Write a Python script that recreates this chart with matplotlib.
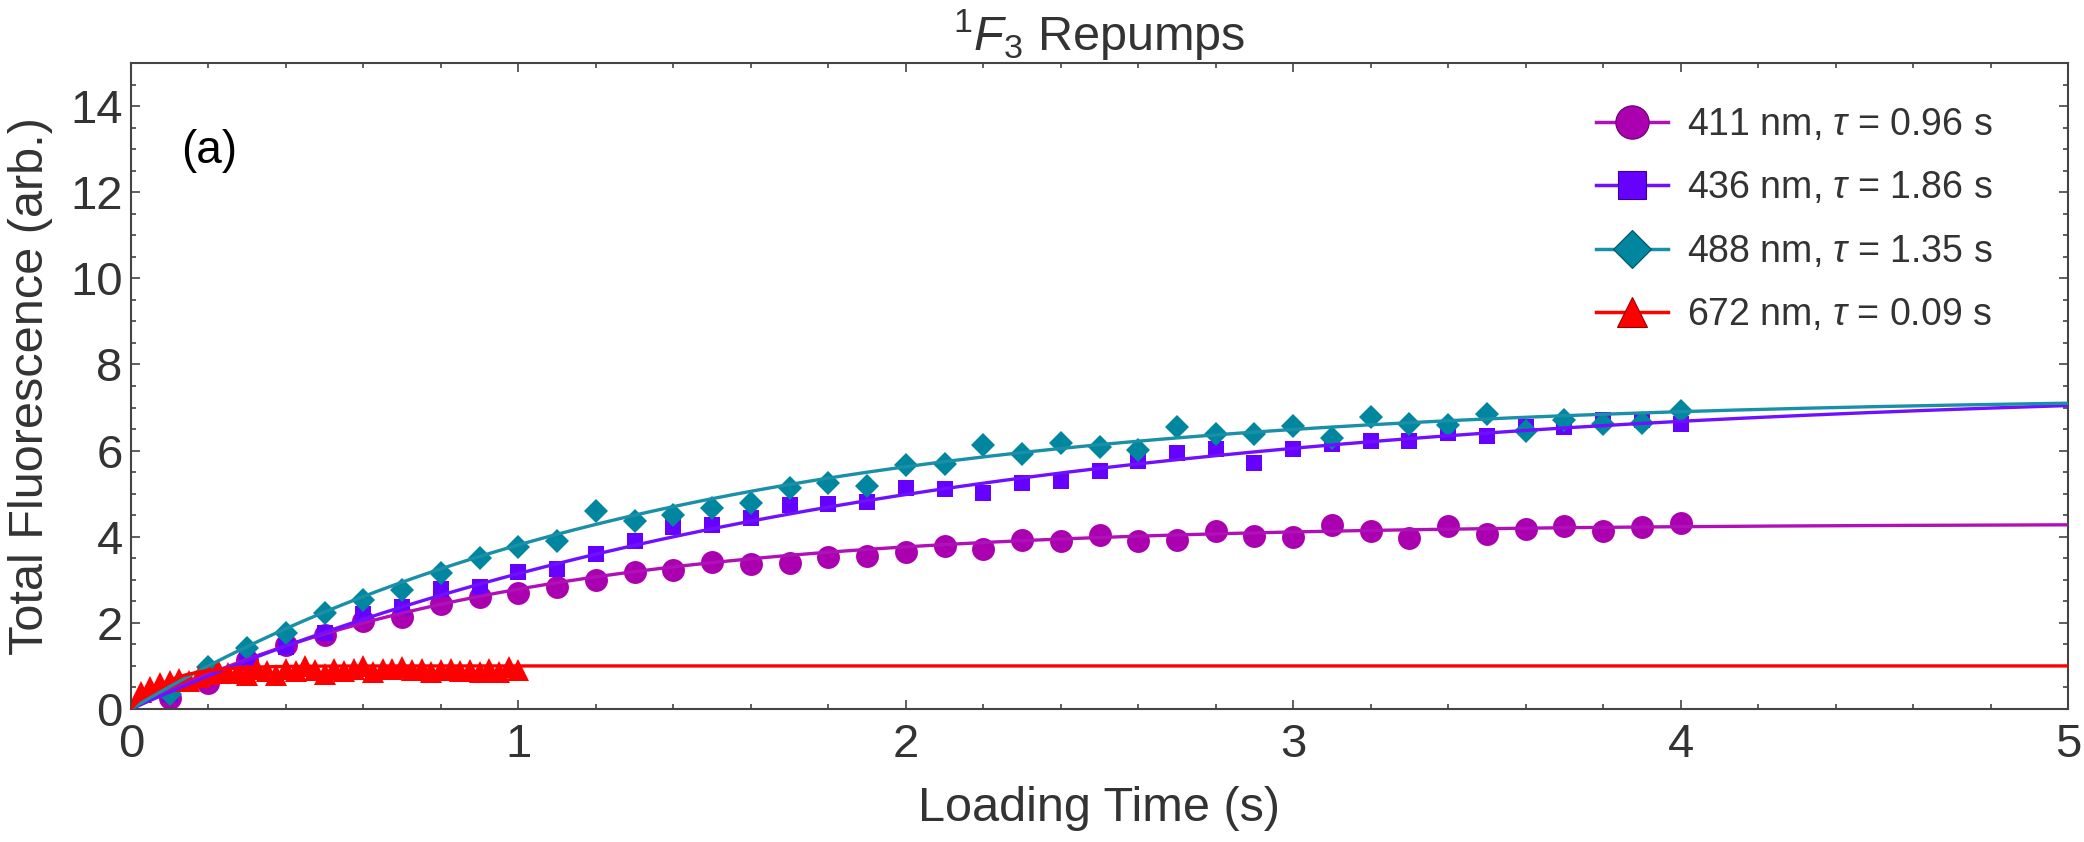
import numpy as np
import matplotlib
matplotlib.use('Agg')
import matplotlib.pyplot as plt
from matplotlib.ticker import MultipleLocator
from matplotlib.lines import Line2D

plt.rcParams['font.family'] = ['Liberation Sans', 'DejaVu Sans']
plt.rcParams['mathtext.fontset'] = 'custom'
plt.rcParams['mathtext.rm'] = 'Liberation Sans'
plt.rcParams['mathtext.it'] = 'Liberation Sans:italic'
plt.rcParams['mathtext.bf'] = 'Liberation Sans:bold'

# ---------------- data ----------------
t_scan = [0.1, 0.2, 0.3, 0.4, 0.5, 0.6, 0.7, 0.8, 0.9, 1.0,
          1.1, 1.2, 1.3, 1.4, 1.5, 1.6, 1.7, 1.8, 1.9, 2.0,
          2.1, 2.2, 2.3, 2.4, 2.5, 2.6, 2.7, 2.8, 2.9, 3.0,
          3.1, 3.2, 3.3, 3.4, 3.5, 3.6, 3.7, 3.8, 3.9, 4.0]

y_411 = [0.25, 0.61, 1.14, 1.49, 1.72, 2.05, 2.14, 2.43, 2.59, 2.70,
         2.84, 3.00, 3.17, 3.23, 3.42, 3.36, 3.40, 3.54, 3.56, 3.65,
         3.78, 3.71, 3.92, 3.91, 4.04, 3.91, 3.92, 4.14, 4.02, 3.99,
         4.27, 4.13, 3.98, 4.25, 4.06, 4.18, 4.25, 4.13, 4.23, 4.33]

y_436 = [0.35, 0.75, 1.21, 1.45, 1.76, 2.20, 2.38, 2.78, 2.83, 3.17,
         3.24, 3.61, 3.91, 4.23, 4.27, 4.43, 4.74, 4.75, 4.81, 5.14,
         5.10, 5.02, 5.25, 5.29, 5.53, 5.76, 5.94, 6.03, 5.72, 6.04,
         6.15, 6.23, 6.23, 6.40, 6.35, 6.55, 6.54, 6.72, 6.72, 6.62]

y_488 = [0.35, 0.98, 1.41, 1.77, 2.22, 2.53, 2.76, 3.15, 3.50, 3.77,
         3.91, 4.60, 4.37, 4.50, 4.67, 4.78, 5.12, 5.24, 5.18, 5.67,
         5.68, 6.13, 5.91, 6.18, 6.09, 6.01, 6.54, 6.38, 6.38, 6.57,
         6.30, 6.77, 6.62, 6.59, 6.85, 6.45, 6.71, 6.62, 6.65, 6.93]

t_672 = [0.0, 0.025, 0.05, 0.075, 0.1, 0.125, 0.15, 0.175, 0.2, 0.225,
         0.25, 0.275, 0.3, 0.325, 0.35, 0.375, 0.4, 0.425, 0.45, 0.475,
         0.5, 0.525, 0.55, 0.575, 0.6, 0.625, 0.65, 0.675, 0.7, 0.725,
         0.75, 0.775, 0.8, 0.825, 0.85, 0.875, 0.9, 0.925, 0.95, 0.975, 1.0]
y_672 = [0.02, 0.40, 0.52, 0.60, 0.64, 0.69, 0.66, 0.74, 0.82, 0.90,
         0.84, 0.86, 0.80, 0.92, 0.88, 0.80, 0.93, 0.88, 1.00, 0.90,
         0.82, 0.92, 0.88, 0.94, 1.00, 0.85, 0.93, 0.92, 0.98, 0.90,
         0.92, 0.86, 0.90, 0.92, 0.88, 0.90, 0.86, 0.93, 0.85, 0.98, 0.90]

# exponential loading fits  A (1 - exp(-t/tau))
wavelengths = ['411', '436', '488', '672']
tau = [0.96, 1.86, 1.35, 0.09]
amp = [4.30, 7.56, 7.28, 1.00]

# ---------------- style ----------------
TEXT = '#333333'
SPINE = '#444444'
face = ['#aa00b0', '#6600ff', '#00869f', '#ff0000']
edge = ['#6a006e', '#3a0099', '#005060', '#990000']
linec = ['#b010b8', '#7010ff', '#1a8fa8', '#ff0000']
mk = ['o', 's', 'D', '^']
ms_data = [16.5, 11.5, 12, 16]
ms_leg = [24, 20, 19, 22]

fig = plt.figure(figsize=(20.84, 8.42), dpi=100)
ax = fig.add_axes([131/2084, 1 - 709/842, 1937/2084, 646/842])

xs = [t_scan, t_scan, t_scan, t_672]
ys = [y_411, y_436, y_488, y_672]
for i in range(4):
    ax.plot(xs[i], ys[i], linestyle='none', marker=mk[i], ms=ms_data[i],
            mfc=face[i], mec=face[i], mew=0, zorder=2 + i * 0.1)

t_fit = np.linspace(0, 5, 1001)
for i in range(4):
    ax.plot(t_fit, amp[i] * (1 - np.exp(-t_fit / tau[i])), color=linec[i],
            lw=2.4, zorder=3 + i * 0.1, solid_capstyle='butt')

ax.set_xlim(0, 5)
ax.set_ylim(0, 15)
ax.xaxis.set_major_locator(MultipleLocator(1))
ax.xaxis.set_minor_locator(MultipleLocator(0.2))
ax.yaxis.set_major_locator(MultipleLocator(2))
ax.yaxis.set_minor_locator(MultipleLocator(0.5))

ax.tick_params(which='both', direction='in', top=True, right=True,
               color=SPINE, labelcolor=TEXT, labelsize=34, width=1.2)
ax.tick_params(which='major', length=6.5)
ax.tick_params(which='minor', length=3.5)
ax.tick_params(axis='x', pad=10)
ax.tick_params(axis='y', pad=6)
for s in ax.spines.values():
    s.set_color(SPINE)
    s.set_linewidth(1.5)

ax.set_xlabel('Loading Time (s)', fontsize=35, color=TEXT, labelpad=14)
ax.set_ylabel('Total Fluorescence (arb.)', fontsize=35, color=TEXT, labelpad=12)
ax.set_title(r'$^{1}\mathit{F}_{3}$ Repumps', fontsize=35, color=TEXT, pad=8)

ax.text(0.13, 12.96, '(a)', fontsize=33, color='black', ha='left', va='center')

handles = []
labels = []
for i in range(4):
    handles.append(Line2D([], [], color=linec[i], lw=2.5, marker=mk[i],
                          ms=ms_leg[i], mfc=face[i], mec=edge[i], mew=0.8))
    labels.append(wavelengths[i] + r' nm, $\tau$ = ' + f'{tau[i]:.2f} s')

leg = ax.legend(handles, labels, loc='upper left',
                bbox_to_anchor=(1596/2084, 1 - 107/842),
                bbox_transform=fig.transFigure, frameon=False,
                fontsize=27, handlelength=1.92, handletextpad=0.5,
                labelspacing=0.73, borderpad=0, borderaxespad=0)
for t in leg.get_texts():
    t.set_color(TEXT)

fig.savefig('out.png', dpi=100)
